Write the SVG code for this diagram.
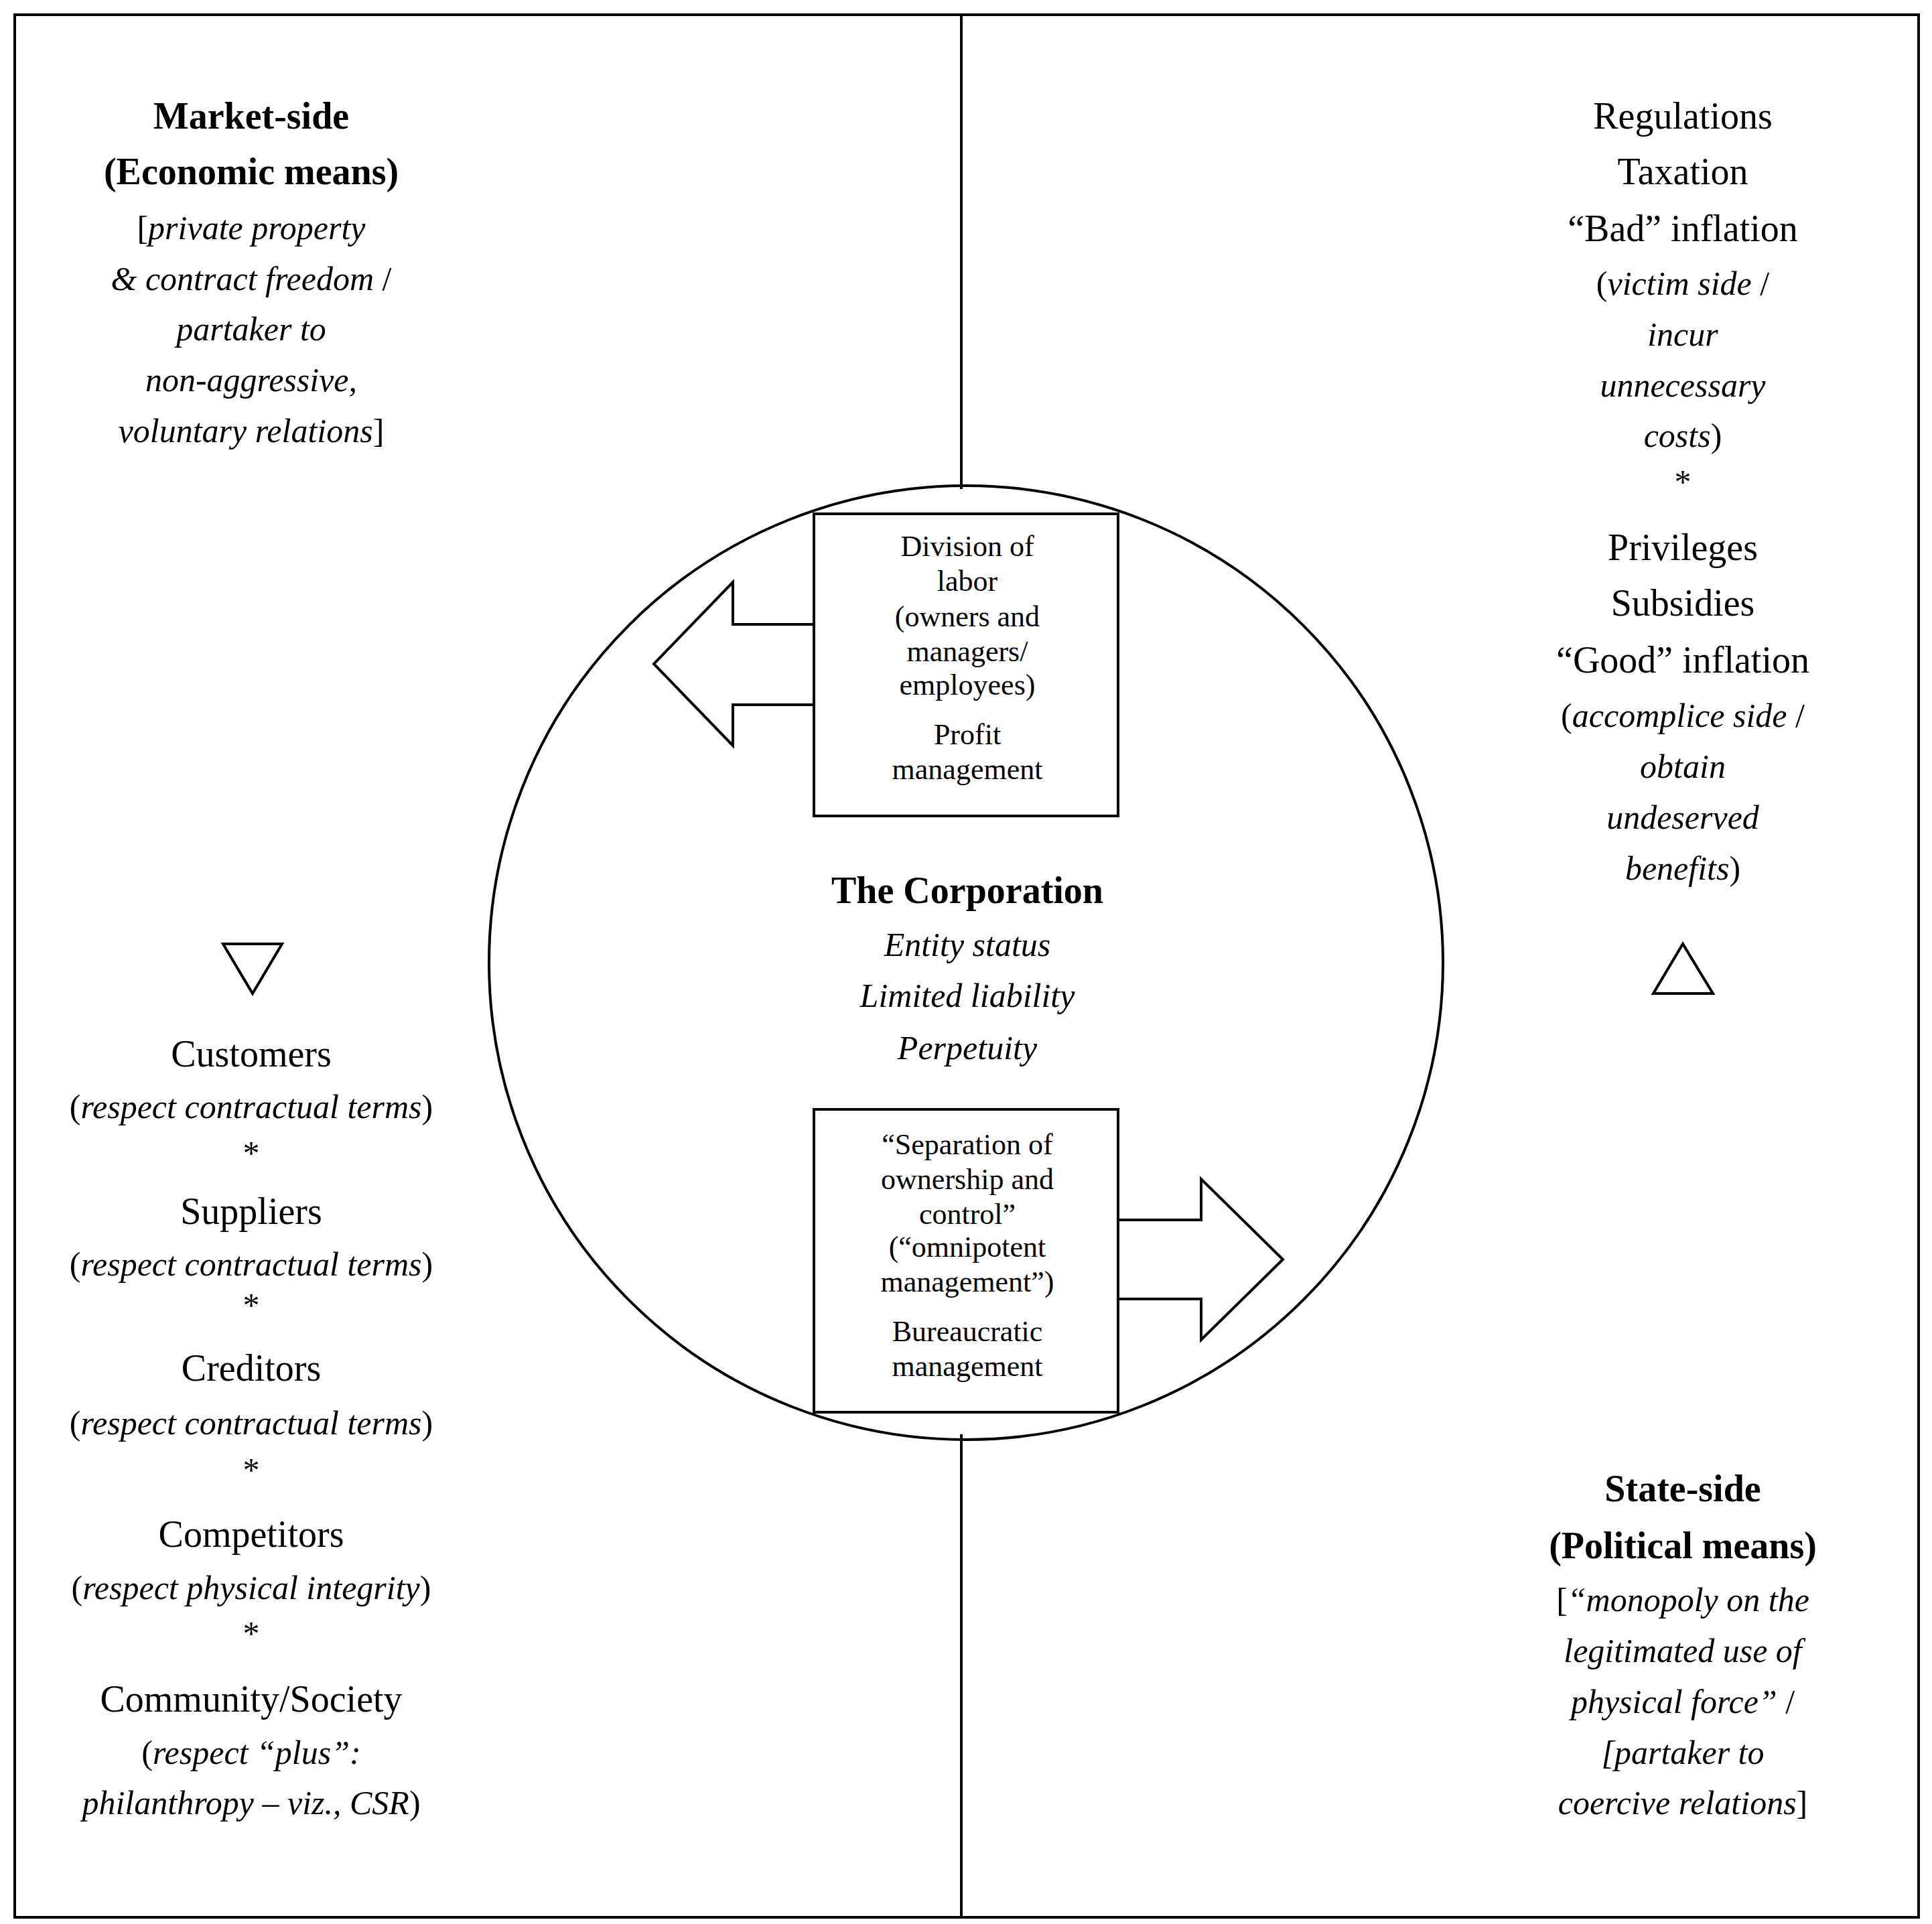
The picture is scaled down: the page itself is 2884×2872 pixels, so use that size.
<svg xmlns="http://www.w3.org/2000/svg" width="2884" height="2872" viewBox="0 0 2884 2872">
<style>
text{font-family:"Liberation Serif","DejaVu Serif",serif;text-anchor:middle;fill:#000}
.h{font-size:56px}
.b{font-weight:bold}
.s{font-size:50px}
.i{font-style:italic}
.bx{font-size:44px}
.ln{fill:none;stroke:#000;stroke-width:4}
</style>
<rect width="2884" height="2872" fill="#fff"/>
<g id="connectors">
<rect class="ln" x="22" y="22" width="2842" height="2840"/>
<line class="ln" x1="1435" y1="22" x2="1435" y2="730"/>
<line class="ln" x1="1435" y1="2141" x2="1435" y2="2862"/>
</g>
<g id="circle"><circle class="ln" cx="1442" cy="1437" r="712"/></g>
<g id="arrow-left"><polygon class="ln" fill="#fff" points="1215,932 1094,932 1094,869 976,991 1094,1113 1094,1052 1215,1052"/></g>
<g id="arrow-right"><polygon class="ln" fill="#fff" points="1669,1821 1793,1821 1793,1760 1915,1880 1793,2000 1793,1939 1669,1939"/></g>
<g id="tri-left"><polygon class="ln" points="333,1409 421,1409 377,1483"/></g>
<g id="tri-right"><polygon class="ln" points="2468,1483 2557,1483 2512,1409"/></g>
<g id="box-top">
<rect class="ln" fill="#fff" x="1215" y="767" width="454" height="451"/>
<text class="bx" x="1444" y="830">Division of</text>
<text class="bx" x="1444" y="882">labor</text>
<text class="bx" x="1444" y="935">(owners and</text>
<text class="bx" x="1444" y="987">managers/</text>
<text class="bx" x="1444" y="1037">employees)</text>
<text class="bx" x="1444" y="1111">Profit</text>
<text class="bx" x="1444" y="1163">management</text>
</g>
<g id="box-bottom">
<rect class="ln" fill="#fff" x="1215" y="1656" width="454" height="452"/>
<text class="bx" x="1444" y="1723">“Separation of</text>
<text class="bx" x="1444" y="1775">ownership and</text>
<text class="bx" x="1444" y="1827">control”</text>
<text class="bx" x="1444" y="1876">(“omnipotent</text>
<text class="bx" x="1444" y="1928">management”)</text>
<text class="bx" x="1444" y="2002">Bureaucratic</text>
<text class="bx" x="1444" y="2054">management</text>
</g>
<g id="corporation">
<text class="h b" x="1444" y="1348">The Corporation</text>
<text class="s i" x="1444" y="1427">Entity status</text>
<text class="s i" x="1444" y="1503">Limited liability</text>
<text class="s i" x="1444" y="1581">Perpetuity</text>
</g>
<g id="market-side">
<text class="h b" x="375" y="192">Market-side</text>
<text class="h b" x="375" y="275">(Economic means)</text>
<text class="s" x="375" y="357">[<tspan class="i">private property</tspan></text>
<text class="s" x="375" y="433"><tspan class="i">&amp; contract freedom</tspan> /</text>
<text class="s i" x="375" y="508">partaker to</text>
<text class="s i" x="375" y="584">non-aggressive,</text>
<text class="s" x="375" y="660"><tspan class="i">voluntary relations</tspan>]</text>
</g>
<g id="stakeholders">
<text class="h" x="375" y="1592">Customers</text>
<text class="s" x="375" y="1669">(<tspan class="i">respect contractual terms</tspan>)</text>
<text class="s" x="375" y="1738">*</text>
<text class="h" x="375" y="1827">Suppliers</text>
<text class="s" x="375" y="1904">(<tspan class="i">respect contractual terms</tspan>)</text>
<text class="s" x="375" y="1965">*</text>
<text class="h" x="375" y="2061">Creditors</text>
<text class="s" x="375" y="2141">(<tspan class="i">respect contractual terms</tspan>)</text>
<text class="s" x="375" y="2211">*</text>
<text class="h" x="375" y="2309">Competitors</text>
<text class="s" x="375" y="2387">(<tspan class="i">respect physical integrity</tspan>)</text>
<text class="s" x="375" y="2455">*</text>
<text class="h" x="375" y="2555">Community/Society</text>
<text class="s" x="375" y="2633">(<tspan class="i">respect “plus”:</tspan></text>
<text class="s" x="375" y="2708"><tspan class="i">philanthropy – viz., CSR</tspan>)</text>
</g>
<g id="state-relations">
<text class="h" x="2512" y="192">Regulations</text>
<text class="h" x="2512" y="275">Taxation</text>
<text class="h" x="2512" y="360">“Bad” inflation</text>
<text class="s" x="2512" y="440">(<tspan class="i">victim side</tspan> /</text>
<text class="s i" x="2512" y="516">incur</text>
<text class="s i" x="2512" y="592">unnecessary</text>
<text class="s" x="2512" y="667"><tspan class="i">costs</tspan>)</text>
<text class="s" x="2512" y="736">*</text>
<text class="h" x="2512" y="836">Privileges</text>
<text class="h" x="2512" y="919">Subsidies</text>
<text class="h" x="2512" y="1004">“Good” inflation</text>
<text class="s" x="2512" y="1085">(<tspan class="i">accomplice side</tspan> /</text>
<text class="s i" x="2512" y="1161">obtain</text>
<text class="s i" x="2512" y="1237">undeserved</text>
<text class="s" x="2512" y="1313"><tspan class="i">benefits</tspan>)</text>
</g>
<g id="state-side">
<text class="h b" x="2512" y="2241">State-side</text>
<text class="h b" x="2512" y="2326">(Political means)</text>
<text class="s" x="2512" y="2405">[<tspan class="i">“monopoly on the</tspan></text>
<text class="s i" x="2512" y="2481">legitimated use of</text>
<text class="s" x="2512" y="2557"><tspan class="i">physical force”</tspan> /</text>
<text class="s i" x="2512" y="2633">[partaker to</text>
<text class="s" x="2512" y="2708"><tspan class="i">coercive relations</tspan>]</text>
</g>
</svg>
